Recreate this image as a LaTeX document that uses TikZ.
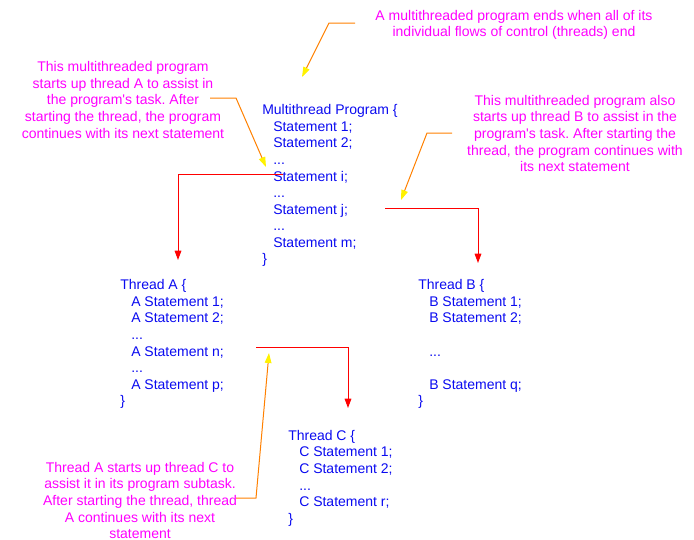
\documentclass[tikz,border=0pt]{standalone}
\usepackage{fontspec}
\setmainfont{Liberation Sans}
\usetikzlibrary{arrows.meta}
\frenchspacing

\definecolor{codeblue}{RGB}{10,10,240}
\definecolor{notemagenta}{RGB}{255,0,255}
\definecolor{noteorange}{RGB}{255,128,0}
\newcommand{\codeindent}{\hspace*{8.25pt}}

\begin{document}
\begin{tikzpicture}[x=0.75pt, y=-0.75pt,
    code/.style={anchor=north west, inner sep=0pt, align=left, text=codeblue, font=\fontsize{10.5}{12.4}\selectfont},
    remark/.style={anchor=north, inner sep=0pt, align=center, text=notemagenta, font=\fontsize{10.5}{12.4}\selectfont},
    pointer/.style={draw=noteorange, line width=0.75pt, -{Triangle[length=7.5pt, width=5pt, color=yellow]}},
    spawn/.style={draw=red, line width=0.75pt, -{Triangle[length=7pt, width=5pt, color=red]}}]
    \useasboundingbox (0,0) rectangle (694,540);

    % Program and threads
    \node[code] (prog) at (262,104.5) {Multithread Program \{\\ \codeindent Statement 1;\\ \codeindent Statement 2;\\ \codeindent ...\\ \codeindent Statement i;\\ \codeindent ...\\ \codeindent Statement j;\\ \codeindent ...\\ \codeindent Statement m;\\ \}};
    \node[code] (thrA) at (120,279.5) {Thread A \{\\ \codeindent A Statement 1;\\ \codeindent A Statement 2;\\ \codeindent ...\\ \codeindent A Statement n;\\ \codeindent ...\\ \codeindent A Statement p;\\ \}};
    \node[code] (thrB) at (418,279.5) {Thread B \{\\ \codeindent B Statement 1;\\ \codeindent B Statement 2;\\ \mbox{}\\ \codeindent ...\\ \mbox{}\\ \codeindent B Statement q;\\ \}};
    \node[code] (thrC) at (288,430) {Thread C \{\\ \codeindent C Statement 1;\\ \codeindent C Statement 2;\\ \codeindent ...\\ \codeindent C Statement r;\\ \}};

    % Remarks
    \node[remark] (endNote) at (514,10) {A multithreaded program ends when all of its\\ individual flows of control (threads) end};
    \node[remark] (noteA) at (123,61.5) {This multithreaded program\\ starts up thread A to assist in\\ the program\textquotesingle s task. After\\ starting the thread, the program\\ continues with its next statement};
    \node[remark] (noteB) at (575,95) {This multithreaded program also\\ starts up thread B to assist in the\\ program\textquotesingle s task. After starting the\\ thread, the program continues with\\ its next statement};
    \node[remark] (noteC) at (140,462) {Thread A starts up thread C to\\ assist it in its program subtask.\\ After starting the thread, thread\\ A continues with its next\\ statement};

    % Connector points
    \coordinate (endTail) at (355,23);   \coordinate (endBend) at (329,23);   \coordinate (endTip) at (302,77);
    \coordinate (aTail) at (210,98);     \coordinate (aBend) at (236,98);     \coordinate (aTip) at (266,167);
    \coordinate (bTail) at (452,133);    \coordinate (bBend) at (427,133);    \coordinate (bTip) at (401,200);
    \coordinate (cTail) at (236,498);    \coordinate (cBend) at (256,498);    \coordinate (cTip) at (269,353);
    \coordinate (spawnA) at (283,174);   \coordinate (turnA) at (178,174);    \coordinate (startA) at (178,260);
    \coordinate (spawnB) at (385,208);   \coordinate (turnB) at (478,208);    \coordinate (startB) at (478,263);
    \coordinate (spawnC) at (256,347);   \coordinate (turnC) at (348,347);    \coordinate (startC) at (348,408);

    % Draw remark pointers
    \draw[pointer] (endTail) -- (endBend) -- (endTip);
    \draw[pointer] (aTail) -- (aBend) -- (aTip);
    \draw[pointer] (bTail) -- (bBend) -- (bTip);
    \draw[pointer] (cTail) -- (cBend) -- (cTip);

    % Draw thread starts
    \draw[spawn] (spawnA) -- (turnA) -- (startA);
    \draw[spawn] (spawnB) -- (turnB) -- (startB);
    \draw[spawn] (spawnC) -- (turnC) -- (startC);
\end{tikzpicture}
\end{document}
